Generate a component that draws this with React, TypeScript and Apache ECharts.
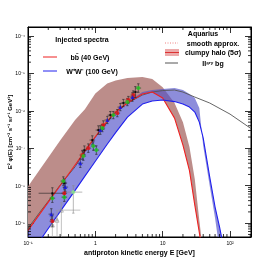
import React, { useEffect, useRef } from "react";
import * as echarts from "echarts";

// ---- axis ranges & tick labels ----
const X_MIN = 0.1;
const X_MAX = 205;
const Y_MIN = 4.27e-10;
const Y_MAX = 1.74e-4;
const xTickLabels: Record<string, string> = { "-1": "10⁻¹", "0": "1", "1": "10", "2": "10²" };
const yTickLabels: Record<string, string> = {
  "-4": "10⁻⁴", "-5": "10⁻⁵", "-6": "10⁻⁶", "-7": "10⁻⁷", "-8": "10⁻⁸", "-9": "10⁻⁹",
};
const xDecades = [-1, 0, 1, 2];
const yDecades = [-10, -9, -8, -7, -6, -5, -4];

// ---- curves [E (GeV), E^2 phi] ----
const bbSmooth: [number, number][] = [
  [0.1, 6.4e-10], [0.15, 1.77e-9], [0.2, 3.64e-9], [0.3, 1.0e-8], [0.5, 3.58e-8], [0.7, 8.4e-8],
  [1, 2.04e-7], [1.5, 5.33e-7], [2, 9.3e-7], [3, 1.62e-6], [5, 2.81e-6], [7, 3.18e-6],
  [10, 2.2e-6], [15, 6.4e-7], [20, 1.22e-7], [25, 2.53e-8], [30, 3.03e-9], [35, 5.7e-10], [37, 2.9e-10],
];
const bbClumpyUpper: [number, number][] = [
  [0.1, 9.6e-9], [0.15, 2.73e-8], [0.2, 5.7e-8], [0.3, 1.62e-7], [0.5, 5.7e-7], [0.7, 1.1e-6],
  [1, 2.9e-6], [1.5, 5.4e-6], [2, 6.5e-6], [3, 7.5e-6], [5, 8.0e-6], [7, 7.1e-6],
  [10, 4.3e-6], [15, 1.62e-6], [20, 5.0e-7], [25, 1.08e-7], [30, 1.5e-8], [35, 1.2e-9], [37, 5.1e-10], [40, 1.0e-10],
];
const wwSmooth: [number, number][] = [
  [0.1, 1.2e-10], [0.15, 3.4e-10], [0.2, 7.2e-10], [0.3, 2.03e-9], [0.5, 7.5e-9], [0.7, 1.8e-8],
  [1, 4.5e-8], [1.5, 1.28e-7], [2, 2.63e-7], [3, 6.8e-7], [5, 1.52e-6], [7, 1.83e-6],
  [10, 1.95e-6], [15, 1.77e-6], [20, 1.52e-6], [25, 1.26e-6], [30, 9.3e-7], [35, 5.0e-7],
  [40, 1.87e-7], [50, 1.7e-8], [60, 2.7e-9], [70, 7.8e-10], [75, 4.2e-10], [80, 1.9e-10],
];
const wwClumpyEdge: [number, number][] = [
  [0.1, 6.4e-10], [0.15, 1.77e-9], [0.2, 3.64e-9], [0.3, 1.0e-8], [0.5, 3.58e-8], [0.7, 8.4e-8],
  [1, 2.04e-7], [1.5, 5.33e-7], [2, 9.3e-7], [3, 1.72e-6], [5, 3.18e-6], [7, 3.6e-6],
  [10, 3.83e-6], [15, 4.07e-6], [20, 3.6e-6], [25, 2.81e-6], [30, 2.2e-6], [35, 1.19e-6],
  [40, 1.15e-7], [50, 9.8e-9], [60, 1.36e-9], [70, 1.9e-10],
];
const secondaryBg: [number, number][] = [
  [0.1, 7.3e-10], [0.15, 1.97e-9], [0.2, 3.87e-9], [0.3, 1.04e-8], [0.5, 3.2e-8], [0.7, 8.4e-8],
  [1, 1.99e-7], [1.5, 5.0e-7], [2, 9.3e-7], [3, 1.62e-6], [5, 2.64e-6], [7, 3.18e-6],
  [10, 3.49e-6], [15, 3.6e-6], [20, 3.18e-6], [30, 2.34e-6], [50, 1.62e-6], [100, 8.2e-7],
  [200, 3.47e-7], [205, 3.4e-7],
];

// ---- data points [E, value, E error factor, value error factor] ----
const dataBlack: number[][] = [
  [0.23, 6.3e-9, 1.6, 1.4], [0.346, 1.17e-8, 1.1, 1.3], [0.687, 8.9e-8, 1.1, 1.3], [0.902, 1.66e-7, 1.1, 1.3],
  [1.11, 3.07e-7, 1.1, 1.3], [1.67, 7.7e-7, 1.1, 1.25], [2.61, 1.62e-6, 1.1, 1.25], [3.93, 3.18e-6, 1.1, 1.4],
];
const dataRed: number[][] = [
  [0.23, 1.13e-9, 1.1, 1.4], [0.346, 6.3e-9, 1.1, 1.3], [0.641, 6.6e-8, 1.1, 1.3], [0.787, 1.01e-7, 1.1, 1.3],
  [1.315, 4.17e-7, 1.1, 1.3], [2.12, 8.7e-7, 1.1, 1.25], [3.09, 1.95e-6, 1.1, 1.25], [3.67, 2.64e-6, 1.1, 1.3],
];
const dataBlue: number[][] = [
  [0.222, 1.74e-9, 1.1, 1.4], [0.358, 9.2e-9, 1.1, 1.3], [0.598, 4.0e-8, 1.1, 1.3], [1.186, 3.07e-7, 1.1, 1.3],
  [1.507, 5.7e-7, 1.1, 1.25], [2.35, 1.26e-6, 1.1, 1.25], [3.55, 2.34e-6, 1.1, 1.3],
];
const dataGreen: number[][] = [
  [0.23, 4.66e-9, 1.1, 1.3], [0.335, 1.33e-8, 1.1, 1.3], [0.346, 4.95e-9, 1.1, 1.3], [0.663, 6.2e-8, 1.1, 1.3],
  [0.934, 1.15e-7, 1.1, 1.3], [1.035, 8.95e-8, 1.1, 1.3], [1.27, 3.47e-7, 1.1, 1.25], [1.85, 7.7e-7, 1.1, 1.25],
  [2.99, 1.72e-6, 1.1, 1.25], [4.35, 4.07e-6, 1.1, 1.3],
];
// outliers [E, value, Elo, Ehi, lo, hi]
const dataLightGreen: number[][] = [[0.471, 6.75e-9, 0.36, 0.64, 1.85e-9, 1.0e-8]];
const dataGray: number[][] = [
  [0.313, 2.23e-9, 0.282, 0.598, 3e-10, 3.5e-9],
  [0.23, 8.9e-10, 0.215, 0.245, 3e-10, 1.6e-9],
  [0.27, 1.2e-9, 0.255, 0.285, 3e-10, 2.2e-9],
];

const FONT = "Liberation Sans";

function toErr(pts: number[][]): number[][] {
  return pts.map(([e, v, fx, fy]) => [e, v, e / fx, e * fx, v / fy, v * fy]);
}

function bandSeries(upper: [number, number][], lower: [number, number][], color: string) {
  return {
    type: "custom",
    clip: true,
    silent: true,
    z: 1,
    data: [upper[0]],
    renderItem: (_params: any, api: any) => {
      const pts = [
        ...upper.map((p) => api.coord(p)),
        ...lower.slice().reverse().map((p) => api.coord(p)),
      ];
      return { type: "polygon", shape: { points: pts }, style: { fill: color } };
    },
  };
}

function errSeries(pts: number[][], color: string) {
  return {
    type: "custom",
    clip: true,
    silent: true,
    z: 5,
    data: pts,
    encode: { x: 0, y: 1 },
    renderItem: (_params: any, api: any) => {
      const c = api.coord([api.value(0), api.value(1)]);
      const l = api.coord([api.value(2), api.value(1)]);
      const r = api.coord([api.value(3), api.value(1)]);
      const lo = api.coord([api.value(0), api.value(4)]);
      const hi = api.coord([api.value(0), api.value(5)]);
      const st = { stroke: color, lineWidth: 0.6, fill: "none" };
      const cap = 1.2;
      return {
        type: "group",
        children: [
          { type: "line", shape: { x1: l[0], y1: c[1], x2: r[0], y2: c[1] }, style: st },
          { type: "line", shape: { x1: c[0], y1: lo[1], x2: c[0], y2: hi[1] }, style: st },
          { type: "line", shape: { x1: c[0] - cap, y1: hi[1], x2: c[0] + cap, y2: hi[1] }, style: st },
          { type: "line", shape: { x1: c[0] - cap, y1: lo[1], x2: c[0] + cap, y2: lo[1] }, style: st },
        ],
      };
    },
  };
}

function scatter(pts: number[][], symbol: string, size: number, color: string, border?: string) {
  return {
    type: "scatter",
    symbol,
    symbolSize: size,
    z: 6,
    silent: true,
    data: pts.map((p) => [p[0], p[1]]),
    itemStyle: border
      ? { color: "rgba(255,255,255,0)", borderColor: border, borderWidth: 0.7 }
      : { color, borderWidth: 0 },
  };
}

function lineSeries(pts: [number, number][], color: string, width: number) {
  return {
    type: "line",
    data: pts,
    showSymbol: false,
    silent: true,
    z: 4,
    clip: true,
    lineStyle: { color, width },
  };
}

const minorX: number[] = [];
xDecades.forEach((n) => {
  for (let k = 2; k <= 9; k++) {
    const v = k * Math.pow(10, n);
    if (v > X_MIN && v < X_MAX) minorX.push(v);
  }
});
const minorY: number[] = [];
yDecades.forEach((n) => {
  for (let k = 2; k <= 9; k++) {
    const v = k * Math.pow(10, n);
    if (v > Y_MIN && v < Y_MAX) minorY.push(v);
  }
});

function labelFor(map: Record<string, string>) {
  return (val: number) => {
    const l = Math.log10(val);
    const e = Math.round(l);
    if (Math.abs(l - e) > 0.01) return "";
    return map[String(e)] ?? "";
  };
}

export default function App() {
  const ref = useRef<HTMLDivElement>(null);
  useEffect(() => {
    if (!ref.current) return;
    const chart = echarts.init(ref.current, undefined, { renderer: "svg" });
    const axisCommon = {
      type: "log",
      logBase: 10,
      splitLine: { show: false },
      axisLine: { show: true, lineStyle: { color: "#000", width: 1 } },
      axisTick: { show: true, inside: true, length: 6, lineStyle: { color: "#000", width: 0.8 } },
    };
    const legendText = (text: string, x: number, y: number) => ({
      type: "text",
      x,
      y,
      silent: true,
      style: {
        text,
        fill: "#000",
        fontFamily: FONT,
        fontWeight: "bold",
        fontSize: 7,
        textAlign: "center",
        textVerticalAlign: "middle",
      },
    });
    const option: any = {
      animation: false,
      backgroundColor: "#fff",
      grid: {
        left: 28, right: 27, top: 27, bottom: 28,
        show: true, borderColor: "#000", borderWidth: 1,
        containLabel: false, outerBoundsMode: "none",
      },
      xAxis: [
        {
          ...axisCommon,
          position: "bottom",
          min: X_MIN,
          max: X_MAX,
          name: "antiproton kinetic energy E [GeV]",
          nameLocation: "middle",
          nameGap: 12,
          nameMoveOverlap: false,
          nameTextStyle: { fontFamily: FONT, fontWeight: "bold", fontSize: 7, color: "#000" },
          axisLabel: { formatter: labelFor(xTickLabels), fontFamily: FONT, fontSize: 5, color: "#000", margin: 3 },
        },
        {
          ...axisCommon,
          position: "top",
          min: X_MIN,
          max: X_MAX,
          axisLabel: { show: false },
        },
      ],
      yAxis: [
        {
          ...axisCommon,
          position: "left",
          min: Y_MIN,
          max: Y_MAX,
          name: "E² φ(E) [cm⁻² s⁻¹ sr⁻¹ GeV¹]",
          nameLocation: "middle",
          nameGap: 15,
          nameMoveOverlap: false,
          nameRotate: 90,
          nameTextStyle: { fontFamily: FONT, fontWeight: "bold", fontSize: 6, color: "#000" },
          axisLabel: { formatter: labelFor(yTickLabels), fontFamily: FONT, fontSize: 5, color: "#000", margin: 3 },
        },
        {
          ...axisCommon,
          position: "right",
          min: Y_MIN,
          max: Y_MAX,
          axisLabel: { show: false },
        },
      ],
      series: [
        bandSeries(bbClumpyUpper, bbSmooth, "#bc8d8a"),
        bandSeries(wwClumpyEdge, wwSmooth, "rgba(80,80,200,0.65)"),
        lineSeries(secondaryBg, "#555", 0.9),
        lineSeries(bbSmooth, "#ee2020", 1.1),
        lineSeries(wwSmooth, "#2020ee", 1.1),
        errSeries(dataGray, "#999"),
        errSeries(dataLightGreen, "#888"),
        errSeries(toErr(dataBlack), "#222"),
        errSeries(toErr(dataRed), "#222"),
        errSeries(toErr(dataBlue), "#222"),
        errSeries(toErr(dataGreen), "#222"),
        scatter(dataGray, "triangle", 4, "#fff", "#888"),
        scatter(dataLightGreen, "circle", 4, "#88ee88"),
        scatter(dataBlack, "rect", 2, "#000"),
        scatter(dataRed, "rect", 3.5, "#ee1111"),
        scatter(dataBlue, "triangle", 4, "#1111ee"),
        scatter(dataGreen, "circle", 4, "#22cc22"),
        {
          type: "custom",
          silent: true,
          z: 10,
          data: minorX.map((v) => [v, Y_MIN]),
          renderItem: (params: any, api: any) => {
            const cs = params.coordSys;
            const p = api.coord([api.value(0), api.value(1)]);
            const st = { stroke: "#000", lineWidth: 0.8 };
            const b = cs.y + cs.height;
            return {
              type: "group",
              children: [
                { type: "line", shape: { x1: p[0], y1: b, x2: p[0], y2: b - 3 }, style: st },
                { type: "line", shape: { x1: p[0], y1: cs.y, x2: p[0], y2: cs.y + 3 }, style: st },
              ],
            };
          },
        },
        {
          type: "custom",
          silent: true,
          z: 10,
          data: minorY.map((v) => [X_MIN, v]),
          renderItem: (params: any, api: any) => {
            const cs = params.coordSys;
            const p = api.coord([api.value(0), api.value(1)]);
            const st = { stroke: "#000", lineWidth: 0.8 };
            const r = cs.x + cs.width;
            return {
              type: "group",
              children: [
                { type: "line", shape: { x1: cs.x, y1: p[1], x2: cs.x + 3, y2: p[1] }, style: st },
                { type: "line", shape: { x1: r, y1: p[1], x2: r - 3, y2: p[1] }, style: st },
              ],
            };
          },
        },
      ],
      graphic: [
        legendText("Injected spectra", 82, 39),
        { type: "line", silent: true, shape: { x1: 43, y1: 57, x2: 57, y2: 57 }, style: { stroke: "#ee2020", lineWidth: 1 } },
        legendText("bb̄ (40 GeV)", 90, 57),
        { type: "line", silent: true, shape: { x1: 43, y1: 71, x2: 57, y2: 71 }, style: { stroke: "#2020ee", lineWidth: 1 } },
        legendText("W⁺W⁻ (100 GeV)", 92, 71),
        legendText("Aquarius", 203, 33),
        { type: "line", silent: true, shape: { x1: 165, y1: 43, x2: 178, y2: 43 }, style: { stroke: "#f08080", lineWidth: 1, lineDash: [1, 1.5] } },
        legendText("smooth approx.", 213, 43),
        { type: "rect", silent: true, shape: { x: 165, y: 49, width: 14, height: 7 }, style: { fill: "rgba(220,100,100,0.55)" } },
        { type: "line", silent: true, shape: { x1: 165, y1: 52.5, x2: 179, y2: 52.5 }, style: { stroke: "#dd3333", lineWidth: 1 } },
        legendText("clumpy halo (5σ)", 213, 52.5),
        { type: "line", silent: true, shape: { x1: 165, y1: 63, x2: 178, y2: 63 }, style: { stroke: "#555", lineWidth: 1 } },
        legendText("IIᵃʳʸ bg", 213, 63),
      ],
    };
    chart.setOption(option);
    return () => chart.dispose();
  }, []);
  return (
    <div
      ref={ref}
      style={{
        position: "fixed", left: 0, top: 0, width: 278, height: 265,
        background: "#fff", willChange: "transform", filter: "contrast(1)",
      }}
    />
  );
}
